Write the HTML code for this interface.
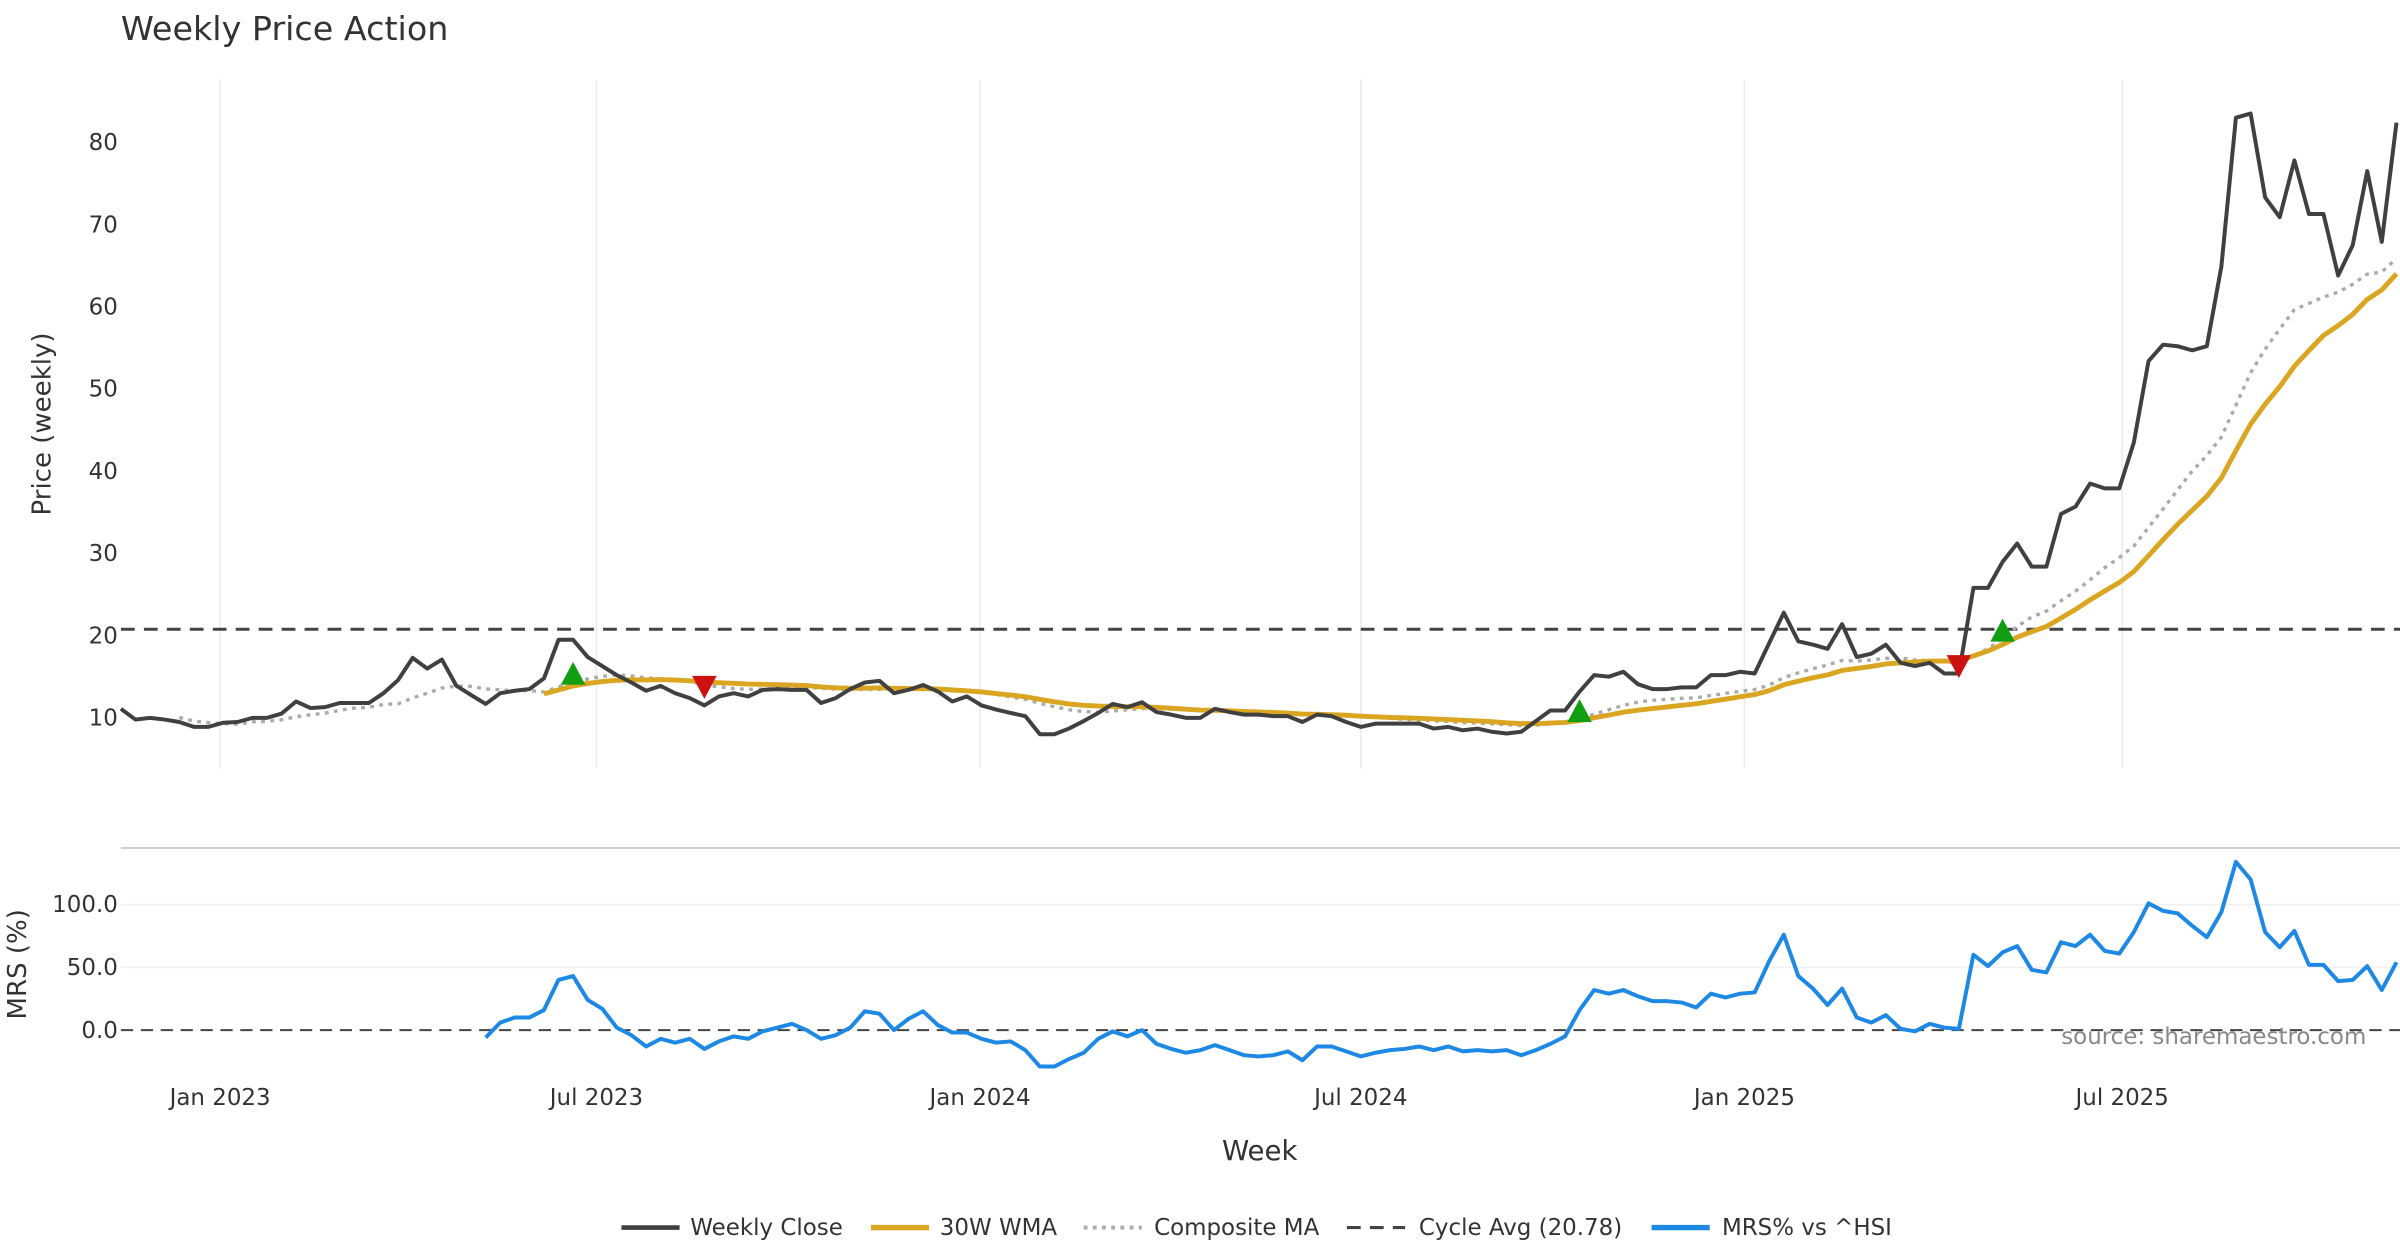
<!DOCTYPE html>
<html><head><meta charset="utf-8"><title>Weekly Price Action</title>
<style>html,body{margin:0;padding:0;background:#fff;}svg{display:block;font-family:"DejaVu Sans","Liberation Sans",sans-serif;}</style>
</head><body>
<svg id="chart" width="2400" height="1260" viewBox="0 0 1568 823.2" xmlns="http://www.w3.org/2000/svg">
<text x="79" y="26" font-size="21.8" fill="#333">Weekly Price Action</text>
<g id="grid"></g>
<g id="price"></g>
<g id="mrs"></g>
<g id="xlabels"></g>
<text transform="translate(33,277) rotate(-90)" text-anchor="middle" font-size="17" fill="#333">Price (weekly)</text>
<text transform="translate(17,630) rotate(-90)" text-anchor="middle" font-size="17" fill="#333">MRS (%)</text>
<text x="823" y="758" text-anchor="middle" font-size="18" fill="#333">Week</text>
<text x="1546" y="682" text-anchor="end" font-size="15" fill="#888">source: sharemaestro.com</text>
<g font-size="15" fill="#333">
<g><line x1="406" y1="802" x2="444" y2="802" stroke="#404040" stroke-width="3"/><text x="451" y="807">Weekly Close</text></g>
<g><line x1="569" y1="802" x2="607" y2="802" stroke="#DAA520" stroke-width="3.5"/><text x="614" y="807">30W WMA</text></g>
<g><line x1="708" y1="802" x2="746" y2="802" stroke="#aaa" stroke-width="2.5" stroke-dasharray="2.5,3.5"/><text x="754" y="807">Composite MA</text></g>
<g><line x1="880" y1="802" x2="918" y2="802" stroke="#444" stroke-width="2" stroke-dasharray="9,6"/><text x="927" y="807">Cycle Avg (20.78)</text></g>
<g><line x1="1079" y1="802" x2="1117" y2="802" stroke="#1E88E5" stroke-width="3.5"/><text x="1125" y="807">MRS% vs ^HSI</text></g>
</g>
</svg>
<script>
const closes = [11.1,9.8,10,9.8,9.5,8.9,8.9,9.4,9.5,10,10,10.5,12,11.2,11.3,11.8,11.8,11.8,13,14.6,17.3,16,17.1,13.9,12.8,11.7,13,13.3,13.5,14.8,19.5,19.5,17.4,16.3,15.2,14.3,13.3,13.9,13,12.4,11.5,12.6,13,12.6,13.4,13.5,13.4,13.4,11.8,12.4,13.5,14.3,14.5,13,13.4,14,13.2,12,12.6,11.5,11,10.6,10.2,8,8,8.7,9.6,10.6,11.7,11.3,11.9,10.7,10.4,10,10,11.1,10.7,10.4,10.4,10.2,10.2,9.5,10.4,10.2,9.5,8.9,9.3,9.3,9.3,9.3,8.7,8.9,8.5,8.7,8.3,8.1,8.3,9.6,10.9,10.9,13.2,15.2,15,15.6,14.1,13.5,13.5,13.7,13.7,15.2,15.2,15.6,15.4,19.1,22.8,19.3,18.9,18.4,21.4,17.4,17.8,18.9,16.7,16.3,16.7,15.4,15.4,25.8,25.8,29,31.2,28.4,28.4,34.8,35.7,38.5,37.9,37.9,43.5,53.4,55.4,55.2,54.7,55.2,64.9,83,83.5,73.3,70.9,77.8,71.3,71.3,63.8,67.5,76.5,67.9,82.4];
const mrsValues = [null,null,null,null,null,null,null,null,null,null,null,null,null,null,null,null,null,null,null,null,null,null,null,null,null,-6,6,10,10,16,40,43,24,17,2,-4,-13,-7,-10,-7,-15,-9,-5,-7,-1,2,5,0,-7,-4,2,15,13,0,9,15,4,-2,-2,-7,-10,-9,-16,-29,-29,-23,-18,-7,-1,-5,0,-11,-15,-18,-16,-12,-16,-20,-21,-20,-17,-24,-13,-13,-17,-21,-18,-16,-15,-13,-16,-13,-17,-16,-17,-16,-20,-16,-11,-5,16,32,29,32,27,23,23,22,18,29,26,29,30,55,76,43,33,20,33,10,6,12,1,-1,5,2,1,60,51,62,67,48,46,70,67,76,63,61,78,101,95,93,83,74,94,134,120,78,66,79,52,52,39,40,51,32,54];
const buySignals = [31,100,129];
const sellSignals = [40,126];
const cycleAvg = [20.78];
const priceTicks = [10,20,30,40,50,60,70,80];
const mrsTicks = [0,50,100];
const mrsTickLabels = ["0.0","50.0","100.0"];
const xTickWeeks = [6.8,32.6,58.9,85,111.3,137.2];
const xTickLabels = ["Jan 2023","Jul 2023","Jan 2024","Jul 2024","Jan 2025","Jul 2025"];

const NS="http://www.w3.org/2000/svg";
const X0=79, STEP=9.53;
const xs=i=>X0+i*STEP;
const yP=v=>469-(v-10)*5.371;
const yM=v=>673-v*0.82;
function mk(tag,attrs,parent){const e=document.createElementNS(NS,tag);for(const k in attrs)e.setAttribute(k,attrs[k]);parent.appendChild(e);return e;}
const grid=document.getElementById('grid'),price=document.getElementById('price'),mrs=document.getElementById('mrs'),xl=document.getElementById('xlabels');

const wma=closes.map((c,i)=>{if(i<29)return null;let s=0,w=0;for(let k=0;k<30;k++){s+=closes[i-k]*(30-k);w+=30-k;}return s/w;});
function sma(n,i){if(i<n-1)return null;let s=0;for(let k=0;k<n;k++)s+=closes[i-k];return s/n;}
const comp=closes.map((c,i)=>{const v=[5,10,20,30].map(n=>sma(n,i)).filter(v=>v!==null);return v.length?v.reduce((a,b)=>a+b)/v.length:null;});

xTickWeeks.forEach((w,k)=>{
  const l=mk('line',{x1:xs(w),x2:xs(w),y1:52,y2:502,stroke:'#ebebeb','stroke-width':1},grid);
  
  
  const t=mk('text',{x:xs(w),y:722,'text-anchor':'middle','font-size':15,fill:'#333'},xl);
  t.textContent=xTickLabels[k];
  
  
});
priceTicks.forEach(v=>{
  const t=mk('text',{x:77,y:yP(v)+5,'text-anchor':'end','font-size':15,fill:'#333'},price);
  t.textContent=v;
  
  
});
mrsTicks.forEach((v,k)=>{
  if(v>0){const g=mk('line',{x1:79,x2:1568,y1:yM(v),y2:yM(v),stroke:'#f0f0f0','stroke-width':1},mrs);
  
  }
  const t=mk('text',{x:77,y:yM(v)+5,'text-anchor':'end','font-size':15,fill:'#333'},mrs);
  t.textContent=mrsTickLabels[k];
  
  
});
const sep=mk('line',{x1:79,x2:1568,y1:554,y2:554,stroke:'#ccc','stroke-width':1.2},mrs);



function path(arr,yf,parent,attrs){let d='',pen=false;arr.forEach((v,i)=>{if(v===null){pen=false;return;}d+=(pen?'L':'M')+xs(i).toFixed(1)+','+yf(v).toFixed(1);pen=true;});attrs.d=d;attrs.fill='none';attrs['stroke-linejoin']='round';return mk('path',attrs,parent);}

const ca=mk('line',{x1:79,x2:1568,y1:yP(cycleAvg[0]),y2:yP(cycleAvg[0]),stroke:'#444','stroke-width':2,'stroke-dasharray':'9,6'},price);


const cp=path(comp,yP,price,{stroke:'#aaa','stroke-width':2.2,'stroke-dasharray':'2.5,3.5'});


const wp=path(wma,yP,price,{stroke:'#DAA520','stroke-width':3.2});


const cl=path(closes,yP,price,{stroke:'#404040','stroke-width':2.6});


buySignals.forEach(i=>{const x=xs(i),y=Math.min(yP(wma[i]??closes[i]),yP(comp[i]??closes[i]))-4;
  const t=mk('polygon',{points:`${x-8},${y+6} ${x+8},${y+6} ${x},${y-9}`,fill:'#129e12'},price);
  
  });
sellSignals.forEach(i=>{const x=xs(i),y=yP(wma[i]??closes[i])+2;
  const t=mk('polygon',{points:`${x-8},${y-6} ${x+8},${y-6} ${x},${y+9}`,fill:'#cc1111'},price);
  
  });

const z=mk('line',{x1:79,x2:1568,y1:yM(0),y2:yM(0),stroke:'#444','stroke-width':1.3,'stroke-dasharray':'8,5'},mrs);


const mp=path(mrsValues,yM,mrs,{stroke:'#1E88E5','stroke-width':2.6});


</script>
</body></html>
